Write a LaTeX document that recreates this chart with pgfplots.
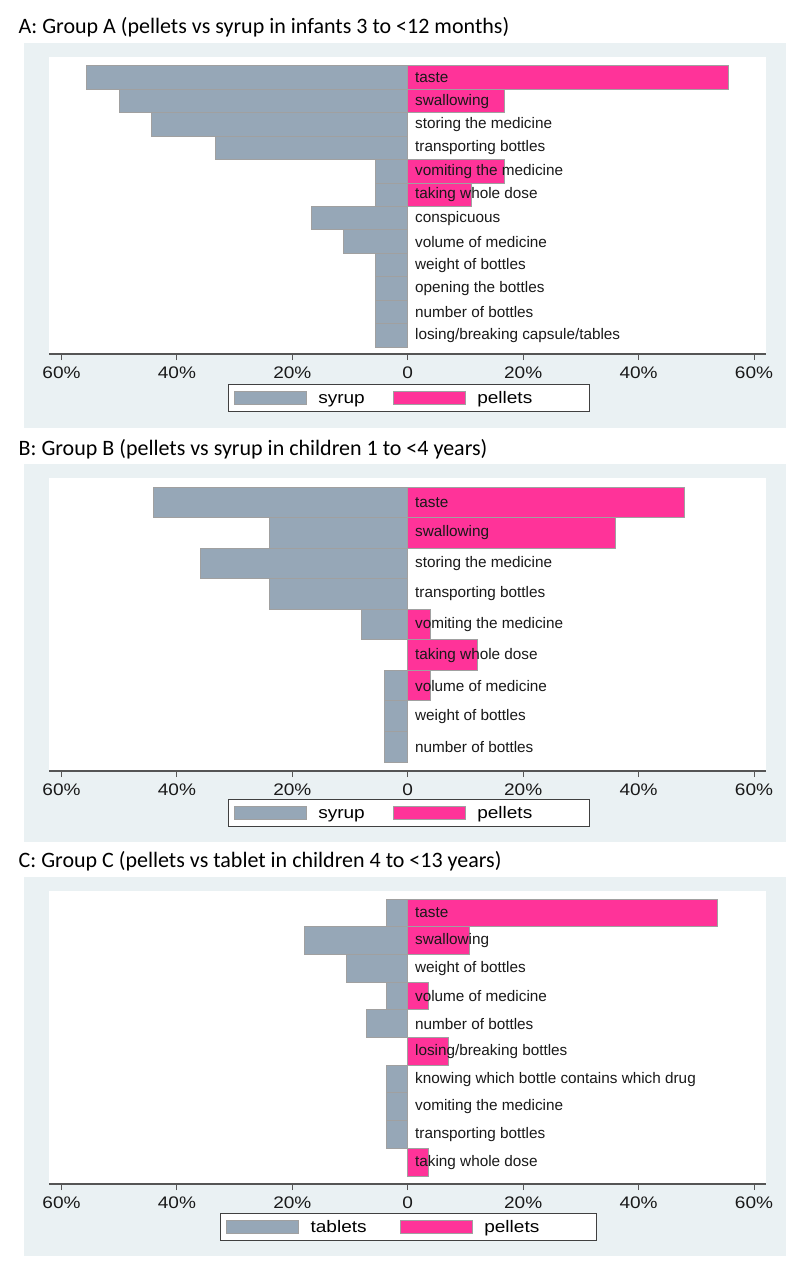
\documentclass[border=0pt]{standalone}
\usepackage{fontspec}
\usepackage{pgfplots}
\usepackage{pgfplotstable}
\pgfplotsset{compat=1.18}
\setmainfont{Liberation Sans}
\newfontfamily\titlef{Carlito}
\newfontfamily\tickf[FakeStretch=1.14]{Liberation Sans}
\definecolor{syr}{RGB}{150,167,183}
\definecolor{pel}{RGB}{255,51,153}
\definecolor{edge}{RGB}{160,160,160}
\definecolor{bgc}{RGB}{234,241,243}
\definecolor{axc}{RGB}{85,85,85}

\pgfplotstableread[col sep=comma]{
y,neg,pos,label
0,-55.6,55.6,taste
1,-50.0,16.7,swallowing
2,-44.4,0,storing the medicine
3,-33.3,0,transporting bottles
4,-5.6,16.7,vomiting the medicine
5,-5.6,11.1,taking whole dose
6,-16.7,0,conspicuous
7,-11.1,0,volume of medicine
8,-5.6,0,weight of bottles
9,-5.6,0,opening the bottles
10,-5.6,0,number of bottles
11,-5.6,0,losing/breaking capsule/tables
}\dataA

\pgfplotstableread[col sep=comma]{
y,neg,pos,label
0,-44,48,taste
1,-24,36,swallowing
2,-36,0,storing the medicine
3,-24,0,transporting bottles
4,-8,4,vomiting the medicine
5,0,12,taking whole dose
6,-4,4,volume of medicine
7,-4,0,weight of bottles
8,-4,0,number of bottles
}\dataB

\pgfplotstableread[col sep=comma]{
y,neg,pos,label
0,-3.6,53.6,taste
1,-17.9,10.7,swallowing
2,-10.7,0,weight of bottles
3,-3.6,3.6,volume of medicine
4,-7.1,0,number of bottles
5,0,7.1,losing/breaking bottles
6,-3.6,0,knowing which bottle contains which drug
7,-3.6,0,vomiting the medicine
8,-3.6,0,transporting bottles
9,0,3.6,taking whole dose
}\dataC

\pgfplotsset{
  panel/.style={
    scale only axis,
    width=358.5pt,
    xmin=-62.17, xmax=62.08,
    y dir=reverse,
    axis x line*=bottom,
    axis y line=none,
    axis background/.style={fill=white},
    x axis line style={draw=axc, line width=0.6pt},
    xtick={-60,-40,-20,0,20,40,60},
    xticklabels={60\%,40\%,20\%,0,20\%,40\%,60\%},
    tick align=outside,
    major tick length=3pt,
    x tick style={draw=axc, line width=0.5pt},
    xticklabel style={font=\tickf\fontsize{8.35pt}{10pt}\selectfont, text=black!90, inner sep=0pt, yshift=-3pt},
    ytick=\empty,
    clip=false,
    legend columns=2,
    legend cell align=left,
    legend image code/.code={
      \draw[##1, draw=edge, line width=0.5pt] (0pt,-3.33pt) rectangle (36pt,3.33pt);
    },
    legend style={
      anchor=north west,
      draw=black!75, line width=0.6pt, fill=white,
      inner xsep=2.65pt, inner ysep=2.37pt,
      font=\tickf\fontsize{8.35pt}{10pt}\selectfont,
      nodes={inner sep=0pt, text height=7pt, text depth=1.6pt},
      /tikz/every odd column/.style={column sep=0pt},
      /tikz/every even column/.style={column sep=0pt},
    },
  },
  barneg/.style={xbar, bar shift=0pt, bar width=1, fill=syr, draw=edge, line width=0.5pt},
  barpos/.style={xbar, bar shift=0pt, bar width=1, fill=pel, draw=edge, line width=0.5pt},
  lab/.style={draw=none, mark=none, nodes near coords, point meta=explicit symbolic,
    nodes near coords style={anchor=west, inner sep=0pt, xshift=3.5pt, text=black!90,
      font=\fontsize{7.65pt}{9pt}\selectfont}},
}

\begin{document}
\begin{tikzpicture}
\path (0pt,0pt) rectangle (400pt,-637pt);
\fill[bgc] (12pt,-21.5pt) rectangle (393pt,-214pt);
\fill[bgc] (12pt,-232pt) rectangle (393pt,-421pt);
\fill[bgc] (12pt,-438.5pt) rectangle (393pt,-628pt);
\node[anchor=base west, inner sep=0pt, font=\titlef\fontsize{11pt}{13pt}\selectfont] at (9.15pt,-16.5pt) {A: Group A (pellets vs syrup in infants 3 to <12 months)};
\node[anchor=base west, inner sep=0pt, font=\titlef\fontsize{11pt}{13pt}\selectfont] at (9.15pt,-227.5pt) {B: Group B (pellets vs syrup in children 1 to <4 years)};
\node[anchor=base west, inner sep=0pt, font=\titlef\fontsize{11pt}{13pt}\selectfont] at (9.15pt,-433.5pt) {C: Group C (pellets vs tablet in children 4 to <13 years)};

\begin{axis}[panel, at={(24.5pt,-177pt)}, anchor=south west, height=148.5pt,
  ymin=-0.884, ymax=11.799, legend style={at={(0.2492,-0.101)}}]
\addplot[barneg] table[x=neg,y=y]{\dataA};
\addlegendentry{\makebox[43pt][l]{\hspace*{5.85pt}syrup}}
\addplot[barpos] table[x=pos,y=y]{\dataA};
\addlegendentry{\makebox[59.2pt][l]{\hspace*{5.85pt}pellets}}
\addplot[lab] table[x expr=0, y=y, meta=label]{\dataA};
\end{axis}

\begin{axis}[panel, at={(24.5pt,-385.5pt)}, anchor=south west, height=146.5pt,
  ymin=-0.795, ymax=8.795, legend style={at={(0.2492,-0.0956)}}]
\addplot[barneg] table[x=neg,y=y]{\dataB};
\addlegendentry{\makebox[43pt][l]{\hspace*{5.85pt}syrup}}
\addplot[barpos] table[x=pos,y=y]{\dataB};
\addlegendentry{\makebox[59.2pt][l]{\hspace*{5.85pt}pellets}}
\addplot[lab] table[x expr=0, y=y, meta=label]{\dataB};
\end{axis}

\begin{axis}[panel, at={(24.5pt,-592pt)}, anchor=south west, height=146.5pt,
  ymin=-0.789, ymax=9.789, legend style={at={(0.2385,-0.099)}}]
\addplot[barneg] table[x=neg,y=y]{\dataC};
\addlegendentry{\makebox[50.35pt][l]{\hspace*{5.85pt}tablets}}
\addplot[barpos] table[x=pos,y=y]{\dataC};
\addlegendentry{\makebox[59.2pt][l]{\hspace*{5.85pt}pellets}}
\addplot[lab] table[x expr=0, y=y, meta=label]{\dataC};
\end{axis}
\end{tikzpicture}
\end{document}
